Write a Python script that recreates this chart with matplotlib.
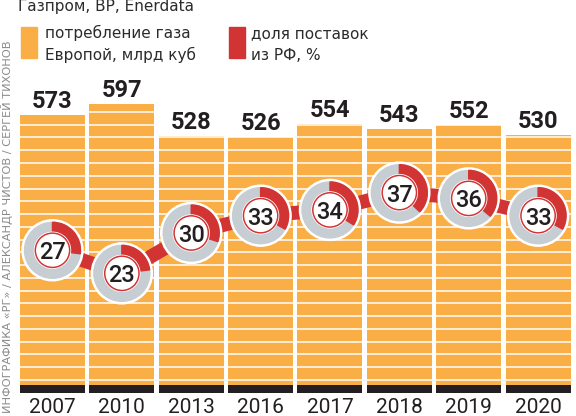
import matplotlib
matplotlib.use('Agg')
import matplotlib.pyplot as plt
import numpy as np
from matplotlib.patches import Wedge, Circle, Rectangle
from matplotlib.transforms import ScaledTranslation

# data
years = ['2007', '2010', '2013', '2016', '2017', '2018', '2019', '2020']
consumption = [573, 597, 528, 526, 554, 543, 552, 530]   # млрд куб
russia_share = [27, 23, 30, 33, 34, 37, 36, 33]          # %

ORANGE = '#F9AF45'
RED = '#D23434'
GRAY = '#C6CDD3'
DARK = '#231F20'
TEXT = '#2B2B2B'

plt.rcParams['font.family'] = ['Roboto', 'DejaVu Sans']

fig = plt.figure(figsize=(5.76, 4.16), dpi=100)
ax = fig.add_axes([0.0309, 0.0553, 0.9635, 0.7524])
ax2 = ax.twinx()

x = np.arange(len(years))

# bars + dark base strip
ax.bar(x, consumption, width=0.937, color=ORANGE, zorder=2)
ax.bar(x, 17, bottom=-17, width=0.937, color=DARK, zorder=2)
ax.hlines(10.6, -0.56, 7.5, color='#bbbbbb', lw=0.8, zorder=1)
for lvl in np.arange(10.6, 600, 27.08):
    ax.axhline(lvl, color='white', lw=1.1, zorder=3)

for xi, v in zip(x, consumption):
    ax.annotate(str(v), (xi, v), xytext=(0, 5), textcoords='offset points',
                ha='center', va='baseline', fontsize=17, fontweight='bold',
                color=DARK, zorder=5)

ax.set_xlim(-0.5, 7.5)
ax.set_ylim(-17, 647)
ax.set_xticks(x)
ax.set_xticklabels(years, fontsize=15, fontweight='normal', color=DARK)
ax.tick_params(axis='x', length=0, pad=3.5)
ax.set_yticks([])

# share line and ring markers
ax2.plot(x, russia_share, color=RED, lw=10, solid_capstyle='butt', zorder=2)
ax2.set_ylim(2.254, 56.53)
ax2.set_yticks([])

for xi, p in zip(x, russia_share):
    tr = fig.dpi_scale_trans + ScaledTranslation(xi, p, ax2.transData)
    parts = [
        Circle((0, 0), 0.305, color='white'),
        Circle((0, 0), 0.28, color=GRAY),
        Wedge((0, 0), 0.28, 90 - 3.6 * p, 90, color=RED),
        Circle((0, 0), 0.18, color='white'),
        Circle((0, 0), 0.172, color=RED),
        Circle((0, 0), 0.157, color='white'),
    ]
    for k, pt in enumerate(parts):
        pt.set_transform(tr)
        pt.set_clip_on(False)
        pt.set_zorder(4 + k * 0.01)
        ax2.add_patch(pt)
    ax2.annotate(str(p), (xi, p), ha='center', va='center_baseline',
                 fontsize=17, fontweight='medium', color=DARK, zorder=5)

for a in (ax, ax2):
    for s in a.spines.values():
        s.set_visible(False)

# header and legend
sans = ['DejaVu Sans']
fig.text(18 / 576, 1 - 11 / 416, 'Газпром, BP, Enerdata', fontsize=11,
         family=sans, color=TEXT, va='baseline')
fig.patches.append(Rectangle((21 / 576, 1 - 58 / 416), 16 / 576, 31 / 416,
                             color=ORANGE, transform=fig.transFigure))
fig.patches.append(Rectangle((229 / 576, 1 - 58 / 416), 16 / 576, 31 / 416,
                             color=RED, transform=fig.transFigure))
fig.text(45 / 576, 1 - 38 / 416, 'потребление газа', fontsize=11,
         family=sans, color=TEXT, va='baseline')
fig.text(45 / 576, 1 - 60 / 416, 'Европой, млрд куб', fontsize=11,
         family=sans, color=TEXT, va='baseline')
fig.text(251 / 576, 1 - 38 / 416, 'доля поставок', fontsize=11,
         family=sans, color=TEXT, va='baseline')
fig.text(251 / 576, 1 - 60 / 416, 'из РФ, %', fontsize=11,
         family=sans, color=TEXT, va='baseline')

fig.text(7 / 576, 1 - 413 / 416,
         'ИНФОГРАФИКА «РГ» / АЛЕКСАНДР ЧИСТОВ / СЕРГЕЙ ТИХОНОВ',
         rotation=90, fontsize=8.2, family=sans, color='#8a8a8a',
         ha='center', va='bottom')

fig.savefig('out.png', dpi=100)
